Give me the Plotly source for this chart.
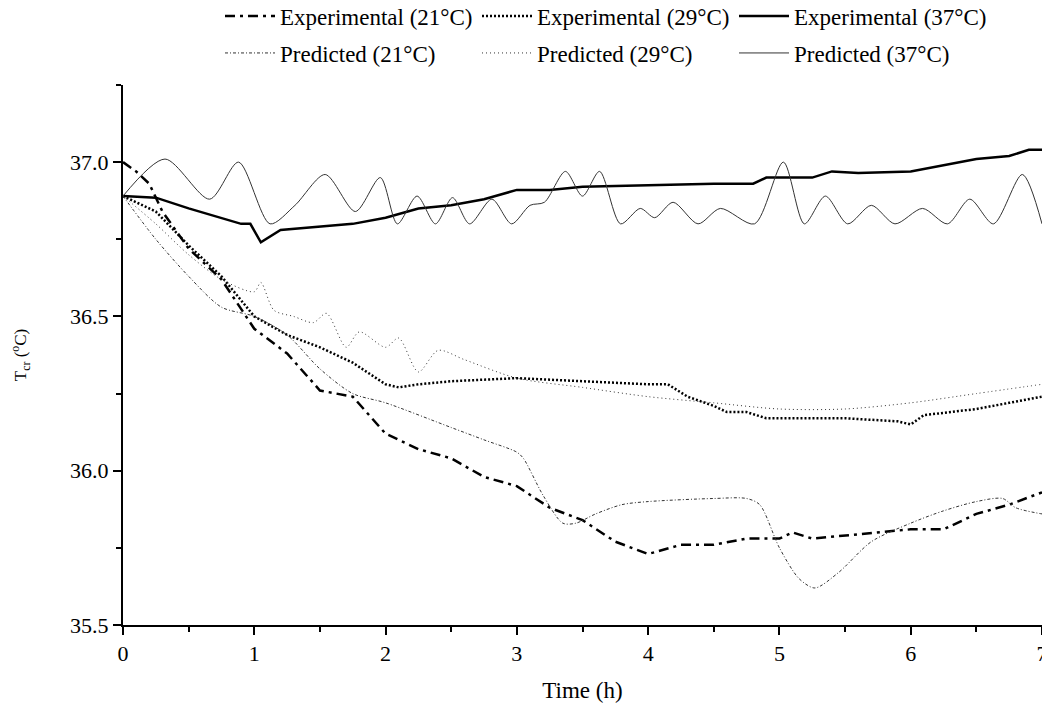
import plotly.graph_objects as go

# ---------------- data ----------------
t_exp21 = [0, 0.1, 0.2, 0.3, 0.5, 0.75, 1.0, 1.25, 1.5, 1.75, 2.0, 2.25, 2.5, 2.75, 3.0, 3.25, 3.5, 3.75, 4.0, 4.25, 4.5, 4.75, 5.0, 5.1, 5.25, 5.5, 5.75, 6.0, 6.25, 6.5, 6.75, 7.0]
T_exp21 = [37.0, 36.97, 36.93, 36.84, 36.72, 36.62, 36.46, 36.38, 36.26, 36.24, 36.12, 36.07, 36.04, 35.98, 35.95, 35.88, 35.84, 35.77, 35.73, 35.76, 35.76, 35.78, 35.78, 35.80, 35.78, 35.79, 35.80, 35.81, 35.81, 35.86, 35.89, 35.93]

t_exp29 = [0, 0.25, 0.5, 0.75, 1.0, 1.25, 1.5, 1.75, 2.0, 2.1, 2.25, 2.5, 3.0, 3.5, 4.0, 4.15, 4.3, 4.5, 4.6, 4.75, 4.9, 5.0, 5.5, 5.9, 6.0, 6.1, 6.5, 6.75, 7.0]
T_exp29 = [36.89, 36.84, 36.73, 36.63, 36.50, 36.44, 36.40, 36.35, 36.28, 36.27, 36.28, 36.29, 36.30, 36.29, 36.28, 36.28, 36.24, 36.21, 36.19, 36.19, 36.17, 36.17, 36.17, 36.16, 36.15, 36.18, 36.20, 36.22, 36.24]

t_exp37 = [0, 0.25, 0.5, 0.75, 0.9, 0.97, 1.05, 1.2, 1.5, 1.75, 2.0, 2.25, 2.5, 2.75, 3.0, 3.25, 3.5, 4.0, 4.5, 4.8, 4.9, 5.0, 5.25, 5.4, 5.6, 6.0, 6.25, 6.5, 6.75, 6.9, 7.0]
T_exp37 = [36.89, 36.885, 36.85, 36.82, 36.80, 36.80, 36.74, 36.78, 36.79, 36.80, 36.82, 36.85, 36.86, 36.88, 36.91, 36.91, 36.92, 36.925, 36.93, 36.93, 36.95, 36.95, 36.95, 36.97, 36.965, 36.97, 36.99, 37.01, 37.02, 37.04, 37.04]

t_pre21 = [0, 0.25, 0.5, 0.75, 1.0, 1.25, 1.5, 1.75, 2.0, 2.5, 2.75, 3.0, 3.05, 3.2, 3.35, 3.45, 3.6, 3.8, 4.0, 4.5, 4.75, 4.85, 5.0, 5.15, 5.27, 5.45, 5.7, 6.0, 6.25, 6.5, 6.7, 6.8, 7.0]
T_pre21 = [36.89, 36.75, 36.63, 36.53, 36.50, 36.44, 36.33, 36.25, 36.22, 36.14, 36.10, 36.06, 36.04, 35.92, 35.83, 35.83, 35.86, 35.89, 35.90, 35.91, 35.91, 35.89, 35.75, 35.65, 35.62, 35.67, 35.77, 35.83, 35.87, 35.90, 35.91, 35.88, 35.86]

t_pre29 = [0, 0.25, 0.5, 0.75, 1.0, 1.05, 1.15, 1.3, 1.45, 1.55, 1.7, 1.8, 2.0, 2.1, 2.25, 2.4, 2.6, 3.0, 3.5, 4.0, 4.5, 5.0, 5.5, 6.0, 6.5, 7.0]
T_pre29 = [36.89, 36.80, 36.70, 36.62, 36.58, 36.61, 36.52, 36.50, 36.48, 36.51, 36.40, 36.45, 36.40, 36.43, 36.32, 36.39, 36.36, 36.30, 36.27, 36.24, 36.22, 36.20, 36.20, 36.22, 36.25, 36.28]

t_pre37 = [0, 0.32, 0.66, 0.88, 1.12, 1.31, 1.54, 1.77, 1.96, 2.09, 2.24, 2.38, 2.51, 2.64, 2.81, 2.96, 3.1, 3.21, 3.37, 3.5, 3.63, 3.79, 3.94, 4.05, 4.19, 4.38, 4.55, 4.81, 5.03, 5.19, 5.35, 5.52, 5.7, 5.88, 6.09, 6.28, 6.45, 6.63, 6.85, 7.0]
T_pre37 = [36.89, 37.01, 36.88, 37.00, 36.80, 36.86, 36.96, 36.84, 36.95, 36.80, 36.89, 36.80, 36.885, 36.80, 36.88, 36.80, 36.86, 36.87, 36.97, 36.89, 36.97, 36.80, 36.85, 36.82, 36.87, 36.80, 36.85, 36.80, 37.00, 36.80, 36.89, 36.80, 36.86, 36.80, 36.85, 36.80, 36.88, 36.80, 36.96, 36.80]

x_ticks = [0, 1, 2, 3, 4, 5, 6, 7]
y_ticks = [35.5, 36.0, 36.5, 37.0]
y_ticktext = ["35.5", "36.0", "36.5", "37.0"]

names_row1 = ["Experimental (21°C)", "Experimental (29°C)", "Experimental (37°C)"]
names_row2 = ["Predicted (21°C)", "Predicted (29°C)", "Predicted (37°C)"]

FONT = "Liberation Serif, Times New Roman, serif"

# The page body keeps its default 8px margin, so the figure is sized to fit the window.
W, H = 1042, 701

fig = go.Figure()

fig.add_trace(go.Scatter(x=t_exp21, y=T_exp21, mode="lines", name=names_row1[0],
                         line=dict(color="black", width=2.5, dash="10px,5px,3px,5px"), legend="legend"))
fig.add_trace(go.Scatter(x=t_exp29, y=T_exp29, mode="lines", name=names_row1[1],
                         line=dict(color="black", width=2.5, dash="2px,2px"), legend="legend"))
fig.add_trace(go.Scatter(x=t_exp37, y=T_exp37, mode="lines", name=names_row1[2],
                         line=dict(color="black", width=2.5), legend="legend"))
fig.add_trace(go.Scatter(x=t_pre21, y=T_pre21, mode="lines", name=names_row2[0],
                         line=dict(color="#333333", width=1, dash="3px,2px,1px,2px", shape="spline", smoothing=0.8), legend="legend2"))
fig.add_trace(go.Scatter(x=t_pre29, y=T_pre29, mode="lines", name=names_row2[1],
                         line=dict(color="#333333", width=1, dash="1px,3px", shape="spline", smoothing=0.8), legend="legend2"))
fig.add_trace(go.Scatter(x=t_pre37, y=T_pre37, mode="lines", name=names_row2[2],
                         line=dict(color="#333333", width=1, shape="spline", smoothing=0.8), legend="legend2"))

legend_common = dict(orientation="h", xref="container", yref="container", xanchor="left", yanchor="middle",
                     font=dict(family=FONT, size=23, color="black"), bgcolor="rgba(0,0,0,0)",
                     entrywidth=192, entrywidthmode="pixels", itemwidth=50, tracegroupgap=0)

fig.update_layout(
    width=W, height=H,
    paper_bgcolor="white", plot_bgcolor="white",
    margin=dict(l=115, r=8, t=77, b=84, autoexpand=False),
    font=dict(family=FONT, size=22, color="black"),
    legend=dict(x=212 / W, y=1 - 8 / H, **legend_common),
    legend2=dict(x=212 / W, y=1 - 45 / H, **legend_common),
    xaxis=dict(range=[0, 7], tickvals=x_ticks, showgrid=False, zeroline=False, automargin=False,
               showline=True, linecolor="black", linewidth=2, ticks="outside", ticklen=8, tickwidth=2,
               tickcolor="black", minor=dict(dtick=0.5, ticks="outside", ticklen=5, tickwidth=2, tickcolor="black"),
               title=dict(text="Time (h)", font=dict(size=23), standoff=16)),
    yaxis=dict(range=[35.5, 37.25], tickvals=y_ticks, ticktext=y_ticktext, automargin=False,
               showgrid=False, zeroline=False, showline=True, linecolor="black", linewidth=2,
               ticks="outside", ticklen=8, tickwidth=2, tickcolor="black",
               minor=dict(tickvals=[35.75, 36.25, 36.75, 37.25], ticks="outside", ticklen=5, tickwidth=2, tickcolor="black"),
               title=dict(text="T<sub>cr</sub> (<sup>o</sup>C)", font=dict(size=17), standoff=40)),
)

fig.write_html("out.html")
